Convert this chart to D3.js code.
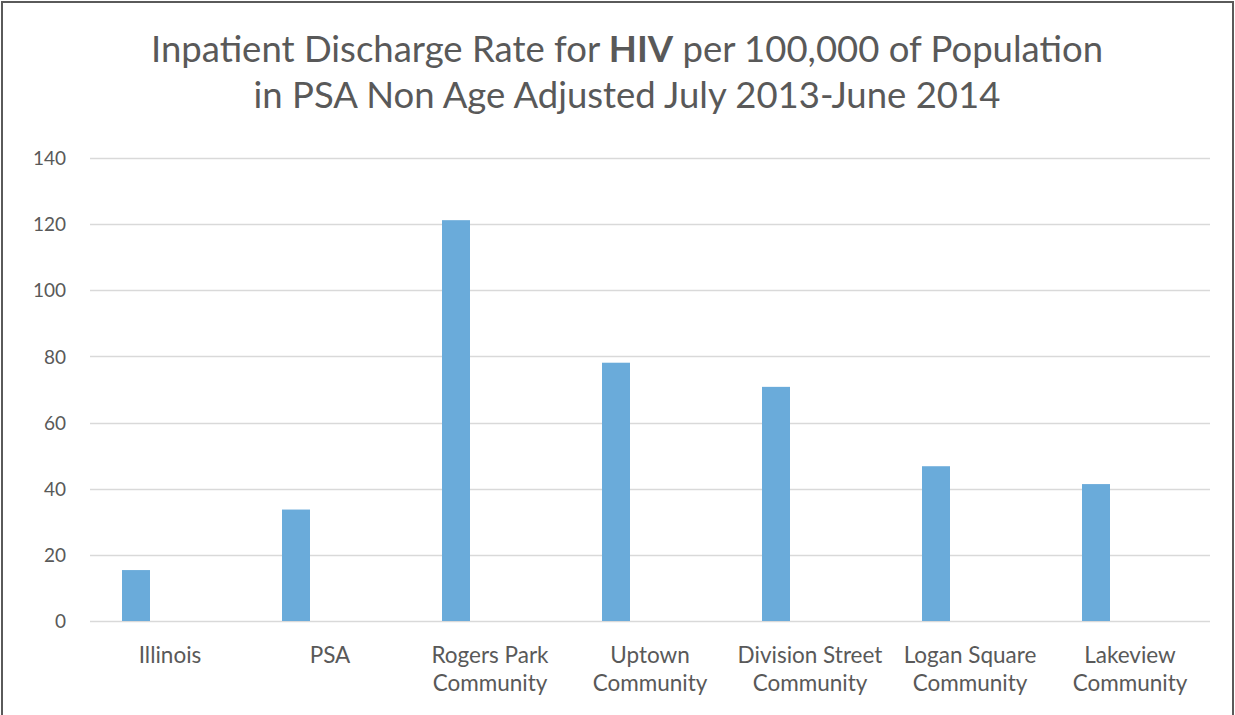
<!DOCTYPE html>
<html>
<head>
<meta charset="utf-8">
<script src="https://cdn.jsdelivr.net/npm/d3@7"></script>
<style>
  body { margin: 0; background: #fff; }
  .chart text { font-family: Lato, "Open Sans", sans-serif; fill: #595959; }
</style>
</head>
<body>
<div class="wrapper"></div>
<script>
// chart values
var categories = [
  ["Illinois"],
  ["PSA"],
  ["Rogers Park", "Community"],
  ["Uptown", "Community"],
  ["Division Street", "Community"],
  ["Logan Square", "Community"],
  ["Lakeview", "Community"]
];
var rates = [15.4, 33.7, 121.2, 78.1, 70.8, 46.8, 41.4];
var yTicks = [0, 20, 40, 60, 80, 100, 120, 140];

var width = 1235,
    height = 715;
var margin = {top: 158, right: 25, bottom: 94, left: 90};

var svg = d3.select(".wrapper").append("svg")
    .attr("class", "chart")
    .attr("width", width)
    .attr("height", height);

// outer frame
svg.append("rect")
    .attr("x", 2).attr("y", 2)
    .attr("width", width - 4).attr("height", height + 10)
    .attr("fill", "none")
    .attr("stroke", "#5a5a5a")
    .attr("stroke-width", 2);

var names = categories.map(function(c) { return c.join(" "); });

var x = d3.scaleBand()
    .domain(names)
    .range([margin.left, width - margin.right]);

var y = d3.scaleLinear()
    .domain([0, 140])
    .range([height - margin.bottom, margin.top]);

// gridlines
svg.append("g")
    .selectAll("line")
    .data(yTicks)
  .enter().append("line")
    .attr("x1", margin.left)
    .attr("x2", width - margin.right)
    .attr("y1", function(d) { return Math.round(y(d)) + 0.5; })
    .attr("y2", function(d) { return Math.round(y(d)) + 0.5; })
    .attr("stroke", "#d9d9d9")
    .attr("stroke-width", 1.5);

// y axis labels
var yAxis = d3.axisLeft(y).tickValues(yTicks).tickSize(0).tickPadding(0);
var gy = svg.append("g")
    .attr("transform", "translate(66,0)")
    .call(yAxis);
gy.select(".domain").remove();
gy.selectAll("text")
    .attr("font-size", 19)
    .attr("dy", "0.35em")
    .style("font-family", "Lato, sans-serif")
    .style("fill", "#595959");

// bars sit left of the category centre (empty second series in the original)
var barW = x.bandwidth() * 0.175;
svg.append("g")
    .selectAll("rect")
    .data(rates)
  .enter().append("rect")
    .attr("x", function(d, i) { return x(names[i]) + x.bandwidth() * 0.2; })
    .attr("y", function(d) { return y(d); })
    .attr("width", barW)
    .attr("height", function(d) { return y(0) - y(d); })
    .attr("fill", "#6aabda");

// category labels
var xl = svg.append("g");
categories.forEach(function(c, i) {
  var t = xl.append("text")
      .attr("text-anchor", "middle")
      .attr("font-size", 22.5)
      .attr("x", x(names[i]) + x.bandwidth() / 2)
      .attr("y", 663);
  c.forEach(function(line, j) {
    t.append("tspan")
        .attr("x", x(names[i]) + x.bandwidth() / 2)
        .attr("dy", j === 0 ? 0 : 28)
        .text(line);
  });
});

// title
var title = svg.append("text")
    .attr("text-anchor", "middle")
    .attr("font-size", 36.5)
    .attr("x", 627)
    .attr("y", 62);
title.append("tspan").text("Inpatient Discharge Rate for ");
title.append("tspan").attr("font-weight", "bold").text("HIV");
title.append("tspan").text(" per 100,000 of Population");
svg.append("text")
    .attr("text-anchor", "middle")
    .attr("font-size", 36.5)
    .attr("x", 627)
    .attr("y", 108)
    .text("in PSA Non Age Adjusted July 2013-June 2014");
</script>
</body>
</html>
